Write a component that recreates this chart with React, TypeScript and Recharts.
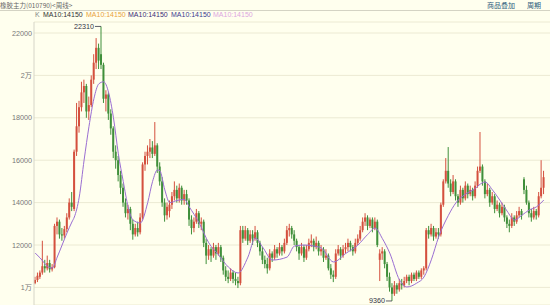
import React from 'react';
import { ComposedChart, Bar, Line, XAxis, YAxis, CartesianGrid } from 'recharts';

// weekly candles: [open, high, low, close]
const ohlc: number[][] = [
  [10200, 10500, 10150, 10350], [10350, 10700, 10250, 10550], [10500, 10800, 10400, 10700], [10700, 12200, 10600, 11000],
  [11000, 11300, 10700, 10900], [10900, 11500, 10800, 11150], [11150, 11300, 10700, 10850], [10850, 11100, 10750, 10950],
  [10950, 13000, 10900, 12900], [12900, 13300, 12500, 13100], [13100, 13200, 12300, 12500], [12500, 12800, 12200, 12450],
  [12450, 12900, 12300, 12750], [12750, 13500, 12600, 13300], [13300, 14200, 13200, 14000], [14000, 14500, 13600, 13800],
  [13700, 16500, 13600, 16400], [16400, 18700, 16200, 17600], [17600, 18800, 17300, 18500], [18500, 19700, 18300, 19200],
  [19200, 19800, 18700, 19500], [19500, 19600, 18000, 18300], [18300, 19000, 17900, 18600], [18600, 20000, 18500, 19800],
  [19800, 21000, 19600, 20600], [20600, 21760, 20300, 21300], [21300, 21500, 20300, 20700], [21000, 22310, 20300, 20500],
  [20500, 20600, 18700, 18900], [18900, 19300, 18300, 19100], [19100, 19200, 17900, 18200], [18200, 18400, 17200, 17500],
  [17500, 17600, 16100, 16400], [16400, 16700, 15600, 16000], [16000, 16200, 15000, 15300], [15300, 15500, 14400, 14700],
  [14700, 14900, 13800, 14000], [14000, 14200, 13300, 13500], [13500, 13900, 13200, 13700], [13700, 13800, 12700, 13000],
  [13000, 13200, 12250, 12500], [12500, 13000, 12400, 12800], [12800, 13100, 12400, 12600], [12600, 13500, 12500, 13300],
  [13300, 15900, 13200, 15800], [15800, 16400, 15500, 16200], [16200, 16700, 15800, 16400], [16400, 17000, 16100, 16600],
  [16600, 16900, 16100, 16300], [16300, 17800, 16200, 16700], [16700, 16800, 15400, 15700], [15700, 15900, 14800, 15000],
  [15000, 15200, 13800, 14000], [14000, 14200, 13100, 13400], [13400, 14000, 13200, 13800], [13600, 14100, 13300, 13900],
  [13900, 14500, 13700, 14300], [14300, 15000, 14100, 14600], [14600, 14800, 14000, 14200], [14200, 14900, 14000, 14700],
  [14700, 14800, 13900, 14100], [14100, 14600, 13900, 14400], [14400, 14600, 13900, 14100], [14100, 14200, 12900, 13200],
  [13200, 13400, 12500, 12800], [12800, 13300, 12600, 13100], [13100, 13700, 13000, 13500], [13500, 13600, 12800, 13000],
  [13000, 13300, 12700, 13100], [13100, 13200, 11900, 12100], [12100, 12300, 11100, 11500], [11500, 12000, 11300, 11800],
  [11800, 11900, 11200, 11500], [11500, 12100, 11400, 11900], [11900, 12000, 11300, 11600], [11600, 12100, 11500, 11900],
  [11900, 12000, 11200, 11400], [11400, 11500, 10600, 10800], [10800, 11000, 10300, 10500], [10500, 10800, 10200, 10400],
  [10400, 10900, 10300, 10700], [10700, 10800, 10200, 10400], [10400, 10700, 10100, 10300], [10300, 10500, 9970, 10200],
  [10200, 12900, 10100, 12700], [12700, 12900, 12100, 12300], [12300, 12900, 12200, 12700], [12700, 12800, 12000, 12200],
  [12200, 12700, 12100, 12500], [12500, 12700, 12000, 12300], [12300, 12900, 12200, 12600], [12600, 12700, 11900, 12100],
  [12100, 12200, 11500, 11700], [11700, 11900, 11100, 11300], [11300, 11500, 10900, 11100], [11100, 11400, 10650, 10900],
  [10900, 11800, 10800, 11600], [11600, 11700, 11200, 11400], [11400, 12000, 11300, 11800], [11800, 11900, 11400, 11600],
  [11600, 12100, 11500, 11900], [11900, 12000, 11500, 11700], [11700, 12300, 11600, 12100], [12100, 12900, 12000, 12700],
  [12700, 13000, 12400, 12800], [12800, 12900, 12300, 12500], [12500, 12700, 12000, 12200], [12200, 12300, 11700, 11900],
  [11900, 12000, 11300, 11600], [11600, 12100, 11500, 11900], [11900, 12000, 11200, 11400], [11400, 12000, 11300, 11800],
  [11800, 12300, 11700, 12100], [12100, 12500, 11900, 12200], [12200, 12300, 11700, 11900], [11900, 12400, 11800, 12100],
  [12100, 12200, 11500, 11700], [11700, 12000, 11500, 11800], [11800, 11900, 11200, 11400], [11400, 11800, 11300, 11500],
  [11500, 11600, 10800, 10900], [10900, 11100, 10400, 10600], [10600, 10800, 10250, 10500], [10500, 11800, 10400, 11600],
  [11600, 12000, 11500, 11800], [11800, 11900, 11300, 11500], [11500, 12000, 11400, 11800], [11800, 12100, 11600, 11900],
  [11900, 12300, 11700, 12100], [12100, 12200, 11700, 11900], [11900, 12000, 11500, 11700], [11700, 12300, 11600, 12100],
  [12100, 12500, 12000, 12300], [12300, 12900, 12200, 12700], [12700, 13300, 12600, 13100], [13100, 13500, 12900, 13300],
  [13300, 13400, 12700, 12900], [12900, 13300, 12800, 13200], [13200, 13300, 12600, 12800], [12800, 13300, 12700, 13100],
  [13100, 13200, 11900, 12000], [11300, 11800, 10300, 11600], [11600, 11900, 11300, 11700], [11700, 11800, 10900, 11100],
  [11100, 11200, 10300, 10500], [10500, 10700, 9800, 10000], [10000, 10200, 9360, 9700], [9700, 10300, 9600, 10100],
  [10100, 10200, 9700, 9900], [9900, 10400, 9800, 10200], [10200, 10400, 9900, 10100], [10100, 10500, 10000, 10300],
  [10300, 10600, 10200, 10500], [10500, 10600, 10100, 10300], [10300, 10700, 10200, 10600], [10600, 10700, 10300, 10400],
  [10400, 10800, 10300, 10700], [10700, 10800, 10400, 10500], [10500, 10900, 10400, 10800], [10800, 11000, 10600, 10900],
  [10900, 12800, 10800, 12700], [12700, 12900, 12300, 12500], [12500, 13000, 12400, 12800], [12800, 12900, 12200, 12400],
  [12400, 12800, 12300, 12600], [12600, 12800, 12300, 12500], [12500, 14000, 12400, 13900], [13900, 15100, 13800, 15000],
  [15000, 16100, 14900, 15500], [15500, 16620, 14700, 14900], [14900, 15100, 14300, 14500], [14500, 15300, 14400, 15000],
  [15000, 15100, 14100, 14300], [14300, 14400, 13800, 14000], [14000, 14800, 13900, 14600], [14600, 14700, 14000, 14200],
  [14200, 15000, 14100, 14800], [14800, 14900, 14200, 14400], [14400, 14800, 14300, 14600], [14600, 14700, 14100, 14300],
  [14300, 15000, 14200, 14800], [14800, 15700, 14700, 15500], [15500, 17330, 15400, 15700], [15700, 15800, 14800, 15000],
  [15000, 15100, 14200, 14400], [14400, 14900, 14300, 14600], [14600, 14700, 13800, 14000], [14000, 14500, 13900, 14300],
  [14300, 14400, 13500, 13700], [13700, 14100, 13600, 13900], [13900, 14000, 13300, 13500], [13500, 14000, 13400, 13800],
  [13800, 13900, 13100, 13300], [13300, 13400, 12800, 13000], [13000, 13200, 12600, 12900], [12900, 13500, 12800, 13300],
  [13300, 13400, 12900, 13100], [13100, 13600, 13000, 13400], [13400, 13800, 13300, 13600], [13600, 13700, 13200, 13400],
  [15100, 15200, 14400, 14600], [14600, 14800, 13900, 14000], [14000, 14100, 13300, 13500], [13500, 13700, 13100, 13300],
  [13300, 13800, 13200, 13600], [13600, 13700, 13200, 13400], [13400, 14500, 13300, 14300], [14300, 16000, 14200, 14700],
  [14700, 15500, 14400, 15200],
];

// MA10 read at selected weeks (index, value)
const maIndex = [0, 2, 5, 7, 9, 11, 13, 15, 16, 18, 20, 22, 24, 26, 28, 30, 32, 34, 36, 38, 40, 43, 46, 48, 50, 51, 53, 55, 58, 61, 63, 67, 71, 75, 79, 83, 87, 90, 93, 97, 103, 106, 110, 114, 117, 122, 127, 132, 136, 139, 142, 145, 149, 152, 156, 159, 162, 165, 169, 172, 176, 179, 184, 187, 190, 193, 196, 199, 202, 205, 208];
const maValues = [11620, 11390, 11000, 10915, 11430, 12000, 12570, 13085, 13320, 14260, 16010, 17600, 18900, 19600, 19700, 19200, 18000, 16300, 15000, 13800, 13180, 13040, 14000, 15000, 15540, 15500, 14600, 14000, 14100, 14150, 13800, 13050, 12100, 11530, 10960, 10680, 11430, 12330, 11900, 11290, 11430, 11950, 12000, 11950, 11860, 11200, 11600, 12000, 12500, 12800, 12300, 11620, 10350, 10020, 10200, 10490, 11300, 12380, 13400, 13980, 14400, 14590, 14970, 14600, 14120, 13600, 13180, 13400, 13650, 13800, 14120];

const yTicks = [10000, 12000, 14000, 16000, 18000, 20000, 22000];
const yDomain = [9170, 22519];

const titleText = '橡胶主力(010790)<周线>';
const rightLinks = ['商品叠加', '周期'];
const kLabel = 'K';
const maLabels = ['MA10:14150', 'MA10:14150', 'MA10:14150', 'MA10:14150', 'MA10:14150'];
const maLabelColors = ['#333333', '#E9A23B', '#3B2C76', '#3D3A8E', '#DDA6E0'];
const maLabelLeft = [43, 86, 128, 171, 213];

const UP = '#D4503E';
const DOWN = '#3F8F3A';
const BG = '#FFFFEE';

const maMap: Record<number, number> = {};
maIndex.forEach((idx, k) => { maMap[idx] = maValues[k]; });

const highs = ohlc.map(d => d[1]);
const lows = ohlc.map(d => d[2]);
const peakIdx = highs.indexOf(Math.max(...highs));
const troughIdx = lows.indexOf(Math.min(...lows));

const data = ohlc.map((d, i) => ({
  i,
  o: d[0], h: d[1], l: d[2], c: d[3],
  range: [d[2], d[1]],
  ma: maMap[i] !== undefined ? maMap[i] : null,
}));

const fmtTick = (v: number) => (v === 20000 ? '2万' : v === 10000 ? '1万' : String(v));

function Candle(props: any) {
  const { x, y, width, height, payload, index } = props;
  if (!payload) return null;
  const { o, h, l, c } = payload;
  const top = Math.min(y, y + height);
  const hh = Math.abs(height);
  const span = h - l || 1;
  const yOf = (v: number) => top + ((h - v) * hh) / span;
  const cx = x + width / 2;
  const color = c >= o ? UP : DOWN;
  const bTop = Math.min(yOf(o), yOf(c));
  const bH = Math.max(1, Math.abs(yOf(o) - yOf(c)));
  const annot = [] as any[];
  if (index === peakIdx) {
    const yy = yOf(h);
    annot.push(
      <g key="pk">
        <text x={cx - 7} y={yy} dy="0.35em" textAnchor="end" fontSize={7.2} fill="#334" fontFamily="Liberation Sans, Arial">{h}</text>
        <line x1={cx - 6} x2={cx} y1={yy} y2={yy} stroke="#334" strokeWidth={0.8} />
      </g>
    );
  }
  if (index === troughIdx) {
    const yy = yOf(l);
    annot.push(
      <g key="tr">
        <text x={cx - 7} y={yy} dy="0.35em" textAnchor="end" fontSize={7.2} fill="#334" fontFamily="Liberation Sans, Arial">{l}</text>
        <line x1={cx - 6} x2={cx} y1={yy} y2={yy} stroke="#334" strokeWidth={0.8} />
      </g>
    );
  }
  return (
    <g>
      <line x1={cx} x2={cx} y1={top} y2={top + hh} stroke={color} strokeWidth={1} />
      <rect x={cx - width / 2} y={bTop} width={width} height={bH} fill={color} />
      {annot}
    </g>
  );
}

export default function App() {
  return (
    <div style={{ position: 'absolute', left: 0, top: 0, width: 550, height: 305, background: BG, overflow: 'hidden', fontFamily: '"Liberation Sans", Arial, "Noto Sans CJK SC", sans-serif' }}>
      <div style={{ position: 'absolute', left: 0, top: 0, width: 550, height: 305 }}>
        <ComposedChart width={550} height={305} data={data} margin={{ top: 22, right: 0, bottom: 0, left: 0 }} barCategoryGap={0}>
          <CartesianGrid horizontal vertical={false} stroke="#ECEAD3" strokeWidth={1} />
          <XAxis dataKey="i" type="category" hide padding={{ left: 0, right: 5 }} />
          <YAxis
            type="number"
            domain={yDomain}
            allowDataOverflow
            ticks={yTicks}
            interval={0}
            width={34}
            tickLine={false}
            tickSize={0}
            tickMargin={2}
            tickFormatter={fmtTick}
            axisLine={{ stroke: '#D6D5C8' }}
            tick={{ fontSize: 7.2, fill: '#777', fontFamily: '"Liberation Sans", Arial, "Noto Sans CJK SC"' }}
          />
          <Bar dataKey="range" barSize={2} shape={<Candle />} isAnimationActive={false} />
          <Line dataKey="ma" type="monotone" connectNulls dot={false} stroke="#9A6ED2" strokeWidth={1} isAnimationActive={false} />
        </ComposedChart>
      </div>
      <div style={{ position: 'absolute', left: 0, top: 0, width: 550, height: 10, borderBottom: '1px solid #D4D3C4' }} />
      <div style={{ position: 'absolute', left: 0, top: 1, fontSize: 6.5, lineHeight: '8px', color: '#666', fontFamily: '"Noto Sans CJK SC", sans-serif', whiteSpace: 'nowrap' }}>{titleText}</div>
      <div style={{ position: 'absolute', left: 487, top: 1, fontSize: 7, lineHeight: '8px', color: '#2C5C7C', fontFamily: '"Noto Sans CJK SC", sans-serif', whiteSpace: 'nowrap' }}>{rightLinks[0]}</div>
      <div style={{ position: 'absolute', left: 527, top: 1, fontSize: 7, lineHeight: '8px', color: '#2C5C7C', fontFamily: '"Noto Sans CJK SC", sans-serif', whiteSpace: 'nowrap' }}>{rightLinks[1]}</div>
      <div style={{ position: 'absolute', left: 35, top: 11, fontSize: 7, lineHeight: '8px', color: '#888', whiteSpace: 'nowrap' }}>{kLabel}</div>
      {maLabels.map((t, k) => (
        <div key={k} style={{ position: 'absolute', left: maLabelLeft[k], top: 11, fontSize: 7, lineHeight: '8px', color: maLabelColors[k], whiteSpace: 'nowrap' }}>{t}</div>
      ))}
    </div>
  );
}
